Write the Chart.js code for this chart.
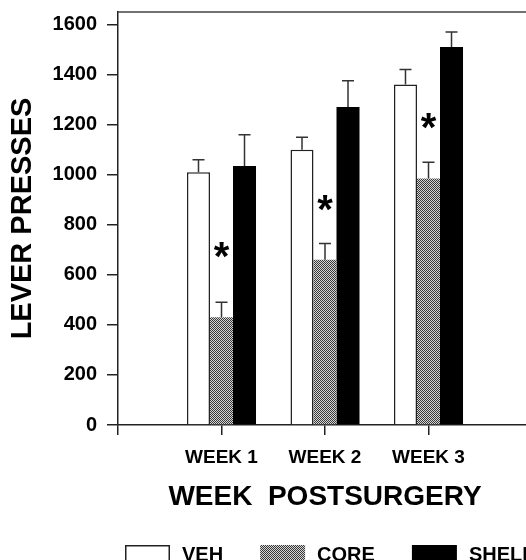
<!DOCTYPE html>
<html>
<head>
<meta charset="utf-8">
<script src="https://cdn.jsdelivr.net/npm/chart.js@4/dist/chart.umd.min.js"></script>
<style>
  html, body { margin: 0; padding: 0; background: #fff; }
  #wrap { width: 526px; height: 560px; overflow: hidden; position: relative; }
  canvas { display: block; }
</style>
</head>
<body>
<div id="wrap"><canvas id="c" width="532" height="580"></canvas></div>
<script>
// Lever presses per week after surgery, mean and SEM per group
const weeks = ['', 'WEEK 1', 'WEEK 2', 'WEEK 3', ''];
const groups = ['VEH', 'CORE', 'SHELL'];
const vehMean = [1010, 1100, 1360];
const coreMean = [430, 660, 985];
const shellMean = [1035, 1270, 1510];
const vehSem = [50, 50, 60];
const coreSem = [60, 65, 65];
const shellSem = [125, 105, 60];
// height (in lever presses) of the significance asterisk over each CORE bar
const starAt = [700, 885, 1215];
const yTicks = [0, 200, 400, 600, 800, 1000, 1200, 1400, 1600];

const FAMILY = '"Liberation Sans", Arial, Helvetica, sans-serif';

// empty category slots at both ends of the axis
const pad = arr => [null, ...arr, null];

// fine stipple fill for the CORE group
function stipple() {
  const c = document.createElement('canvas');
  c.width = 2; c.height = 2;
  const g = c.getContext('2d');
  g.fillStyle = '#d6d6d6';
  g.fillRect(0, 0, 2, 2);
  g.fillStyle = '#383838';
  g.fillRect(0, 0, 1, 1);
  g.fillRect(1, 1, 1, 1);
  return g.createPattern(c, 'repeat');
}

// frame line along the top and right of the plot area
const frame = {
  id: 'frame',
  beforeDatasetsDraw(chart) {
    const { ctx, chartArea: a } = chart;
    ctx.save();
    ctx.strokeStyle = '#444';
    ctx.lineWidth = 1.5;
    ctx.beginPath();
    ctx.moveTo(a.left, a.top);
    ctx.lineTo(a.right, a.top);
    ctx.lineTo(a.right, a.bottom);
    ctx.stroke();
    ctx.restore();
  }
};

// upward SEM whiskers with a short cap
const errorBars = {
  id: 'errorBars',
  afterDatasetsDraw(chart) {
    const { ctx } = chart;
    const y = chart.scales.y;
    ctx.save();
    ctx.strokeStyle = '#333';
    ctx.lineWidth = 1.5;
    chart.data.datasets.forEach((ds, i) => {
      chart.getDatasetMeta(i).data.forEach((bar, j) => {
        const v = ds.data[j];
        if (v == null) return;
        const top = y.getPixelForValue(v + ds.sem[j]);
        ctx.beginPath();
        ctx.moveTo(bar.x, bar.y);
        ctx.lineTo(bar.x, top);
        ctx.moveTo(bar.x - 6, top);
        ctx.lineTo(bar.x + 6, top);
        ctx.stroke();
      });
    });
    ctx.restore();
  }
};

// asterisks marking the CORE group
const stars = {
  id: 'stars',
  afterDatasetsDraw(chart) {
    const { ctx } = chart;
    const y = chart.scales.y;
    const marks = pad(starAt);
    ctx.save();
    ctx.font = 'bold 40px ' + FAMILY;
    ctx.fillStyle = '#000';
    ctx.textAlign = 'center';
    ctx.textBaseline = 'alphabetic';
    const m = ctx.measureText('*');
    const shift = (m.actualBoundingBoxAscent - m.actualBoundingBoxDescent) / 2;
    chart.getDatasetMeta(1).data.forEach((bar, j) => {
      if (marks[j] == null) return;
      ctx.fillText('*', bar.x, y.getPixelForValue(marks[j]) + shift);
    });
    ctx.restore();
  }
};

// legend row under the axis title
const legendRow = {
  id: 'legendRow',
  afterDraw(chart) {
    const { ctx, chartArea: a } = chart;
    ctx.save();
    ctx.font = 'bold 20px ' + FAMILY;
    ctx.textBaseline = 'alphabetic';
    ctx.textAlign = 'left';
    const top = a.bottom + 120;
    let x = a.left + 7;
    chart.data.datasets.forEach(ds => {
      ctx.fillStyle = ds.backgroundColor;
      ctx.fillRect(x, top, 45, 22);
      if (ds.borderWidth) {
        ctx.strokeStyle = ds.borderColor;
        ctx.lineWidth = 1.5;
        ctx.strokeRect(x + 0.75, top + 0.75, 43.5, 22);
      }
      ctx.fillStyle = '#000';
      ctx.fillText(ds.label, x + 57, top + 16);
      x += 57 + ctx.measureText(ds.label).width + 37;
    });
    ctx.restore();
  }
};

const xTickFont = { family: FAMILY, size: 19, weight: 'bold' };
const yTickFont = { family: FAMILY, size: 20, weight: 'bold' };

new Chart(document.getElementById('c'), {
  type: 'bar',
  data: {
    labels: weeks,
    datasets: [
      { label: groups[0], data: pad(vehMean), sem: pad(vehSem),
        backgroundColor: '#ffffff', borderColor: '#222', borderWidth: 1.5, borderSkipped: 'bottom' },
      { label: groups[1], data: pad(coreMean), sem: pad(coreSem),
        backgroundColor: stipple(), borderWidth: 0 },
      { label: groups[2], data: pad(shellMean), sem: pad(shellSem),
        backgroundColor: '#000000', borderWidth: 0 }
    ]
  },
  options: {
    responsive: false,
    animation: false,
    devicePixelRatio: 1,
    layout: { padding: { top: 12, right: 0, bottom: 65, left: 0 } },
    datasets: { bar: { categoryPercentage: 0.667, barPercentage: 1 } },
    plugins: { legend: { display: false }, tooltip: { enabled: false } },
    scales: {
      x: {
        type: 'category',
        offset: false,
        grid: { offset: false, drawOnChartArea: false, drawTicks: true, tickLength: 10, color: '#222', lineWidth: 1.5 },
        border: { color: '#222', width: 1.5 },
        ticks: { font: xTickFont, color: '#000', padding: 11, autoSkip: false, maxRotation: 0 },
        title: { display: true, text: 'WEEK  POSTSURGERY', color: '#000',
                 font: { family: FAMILY, size: 28, weight: 'bold' },
                 padding: { top: 0, bottom: 1 } },
        afterFit(s) { s.height = 90; s.paddingLeft = 0; s.paddingRight = 0; }
      },
      y: {
        min: 0,
        max: 1650,
        afterBuildTicks(s) { s.ticks = yTicks.map(v => ({ value: v })); },
        grid: { drawOnChartArea: false, drawTicks: true, tickLength: 11, color: '#222', lineWidth: 1.5 },
        border: { color: '#222', width: 1.5 },
        ticks: { font: yTickFont, color: '#000', padding: 10, callback: v => String(v) },
        title: { display: true, text: 'LEVER PRESSES', color: '#000',
                 font: { family: FAMILY, size: 29, weight: 'bold' },
                 padding: { top: 6, bottom: 0 } },
        afterFit(s) { s.width = 118; s.paddingTop = 0; s.paddingBottom = 0; }
      }
    }
  },
  plugins: [frame, errorBars, stars, legendRow]
});
</script>
</body>
</html>
